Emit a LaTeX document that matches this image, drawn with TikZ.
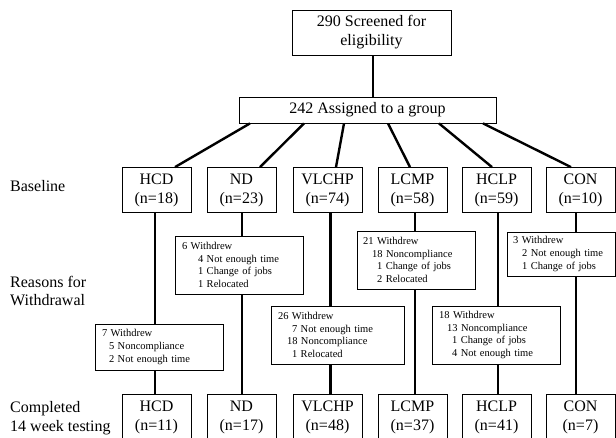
\documentclass[tikz,border=0pt]{standalone}
\usepackage{fontspec}
\setmainfont{Liberation Serif}
\begin{document}
\begin{tikzpicture}[x=1pt,y=-1pt,
  bigbox/.style={draw, line width=0.8pt, inner sep=0pt, align=center,
    minimum width=69pt, minimum height=45pt, font=\fontsize{16}{19}\selectfont},
  wbox/.style={draw, line width=0.8pt, inner sep=0pt, align=left,
    font=\fontsize{10.5}{12.7}\selectfont},
  lbl/.style={anchor=west, inner sep=0pt, align=left, font=\fontsize{16}{18.5}\selectfont},
  conn/.style={line width=2.4pt}]
\useasboundingbox (0,0) rectangle (616,438);

% top
\node[bigbox, minimum width=159pt, minimum height=45pt] (screen) at (371.5,32.5) {290 Screened for\\eligibility};
\node[bigbox, minimum width=257pt, minimum height=26pt] (assigned) at (367.5,110) {242 Assigned to a group};

% baseline boxes
\node[bigbox] (hcd) at (156.5,190) {HCD\\(n=18)};
\node[bigbox] (nd) at (241.5,190) {ND\\(n=23)};
\node[bigbox] (vl) at (327.5,190) {VLCHP\\(n=74)};
\node[bigbox] (lc) at (412.5,190) {LCMP\\(n=58)};
\node[bigbox] (hc) at (496.5,190) {HCLP\\(n=59)};
\node[bigbox] (con) at (580.5,190) {CON\\(n=10)};

% completed boxes
\node[bigbox] (hcdc) at (156.5,417) {HCD\\(n=11)};
\node[bigbox] (ndc) at (241.5,417) {ND\\(n=17)};
\node[bigbox] (vlc) at (327.5,417) {VLCHP\\(n=48)};
\node[bigbox] (lcc) at (412.5,417) {LCMP\\(n=37)};
\node[bigbox] (hcc) at (496.5,417) {HCLP\\(n=41)};
\node[bigbox] (conc) at (580.5,417) {CON\\(n=7)};

% withdrawal boxes
\node[wbox, text width=128pt, minimum height=58pt] (ndw) at (239,265)
  {\hspace*{7pt}6 Withdrew\\\hspace*{23pt}4 Not enough time\\\hspace*{23pt}1 Change of jobs\\\hspace*{23pt}1 Relocated};
\node[wbox, text width=128pt, minimum height=46pt] (hcdw) at (159,347)
  {\hspace*{7pt}7 Withdrew\\\hspace*{14pt}5 Noncompliance\\\hspace*{14pt}2 Not enough time};
\node[wbox, text width=133pt, minimum height=58pt] (vlw) at (337.5,335)
  {\hspace*{7pt}26 Withdrew\\\hspace*{21pt}7 Not enough time\\\hspace*{16pt}18 Noncompliance\\\hspace*{21pt}1 Relocated};
\node[wbox, text width=118pt, minimum height=58pt] (lcw) at (416,260)
  {\hspace*{6pt}21 Withdrew\\\hspace*{15pt}18 Noncompliance\\\hspace*{20pt}1 Change of jobs\\\hspace*{20pt}2 Relocated};
\node[wbox, text width=128pt, minimum height=58pt] (hcw) at (496,335)
  {\hspace*{7pt}18 Withdrew\\\hspace*{15pt}13 Noncompliance\\\hspace*{20pt}1 Change of jobs\\\hspace*{20pt}4 Not enough time};
\node[wbox, text width=108pt, minimum height=44pt] (conw) at (561,254)
  {\hspace*{6pt}3 Withdrew\\\hspace*{15pt}2 Not enough time\\\hspace*{15pt}1 Change of jobs};

% left labels
\node[lbl] (lb1) at (10,186) {Baseline};
\node[lbl] (lb2) at (10,291) {Reasons for\\Withdrawal};
\node[lbl] (lb3) at (10,418) {Completed\\14 week testing};

% connectors
\draw[conn] (screen.south) ++(1.5,0) coordinate (s1) -- (s1 |- assigned.north);
\draw[conn] ([xshift=-117.5pt]assigned.south) -- ([xshift=18.5pt]hcd.north);
\draw[conn] ([xshift=-63.5pt]assigned.south) -- ([xshift=18.5pt]nd.north);
\draw[conn] ([xshift=-23.5pt]assigned.south) -- ([xshift=8.5pt]vl.north);
\draw[conn] ([xshift=20.5pt]assigned.south) -- ([xshift=-2.5pt]lc.north);
\draw[conn] ([xshift=71.5pt]assigned.south) -- ([xshift=-4.5pt]hc.north);
\draw[conn] ([xshift=115.5pt]assigned.south) -- ([xshift=-9.5pt]con.north);

\draw[conn] ([xshift=-1.5pt]hcd.south) coordinate (a1) -- (a1 |- hcdw.north);
\draw[conn] (a1 |- hcdw.south) -- (a1 |- hcdc.north);
\draw[conn] ([xshift=0.5pt]nd.south) coordinate (a2) -- (a2 |- ndw.north);
\draw[conn] (a2 |- ndw.south) -- (a2 |- ndc.north);
\draw[conn] ([xshift=3pt]vl.south) coordinate (a3) -- (a3 |- vlw.north);
\draw[conn] (a3 |- vlw.south) -- (a3 |- vlc.north);
\draw[conn] ([xshift=2.5pt]lc.south) coordinate (a4) -- (a4 |- lcw.north);
\draw[conn] (a4 |- lcw.south) -- (a4 |- lcc.north);
\draw[conn] ([xshift=1.5pt]hc.south) coordinate (a5) -- (a5 |- hcw.north);
\draw[conn] (a5 |- hcw.south) -- (a5 |- hcc.north);
\draw[conn] ([xshift=-4.5pt]con.south) coordinate (a6) -- (a6 |- conw.north);
\draw[conn] (a6 |- conw.south) -- (a6 |- conc.north);
\end{tikzpicture}
\end{document}
